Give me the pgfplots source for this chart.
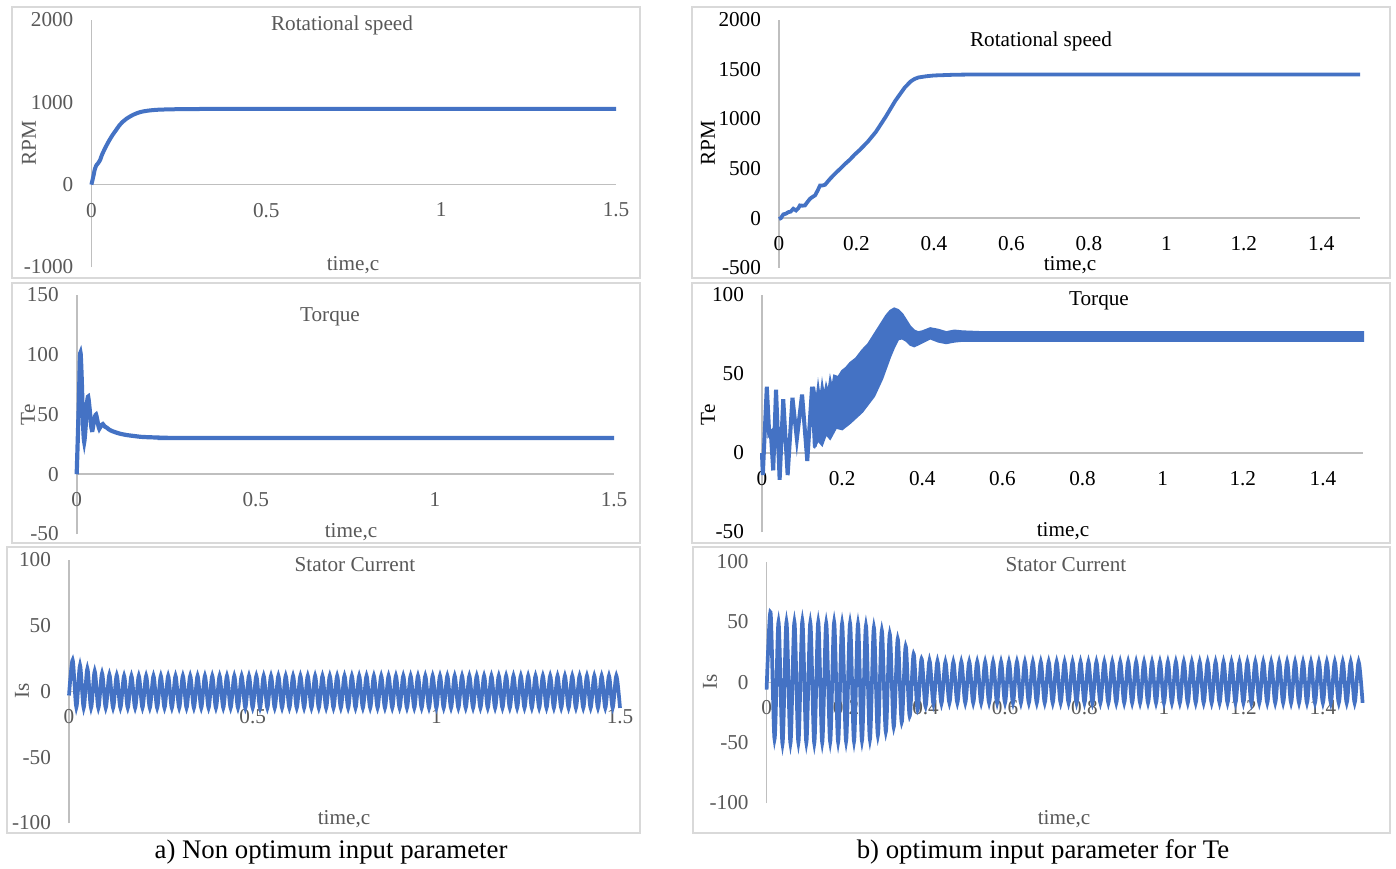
\documentclass[border=0pt]{standalone}
\usepackage{fontspec}
\setmainfont{Liberation Serif}
\usepackage{pgfplots}
\pgfplotsset{compat=1.18}

\definecolor{lineblue}{HTML}{4472C4}
\definecolor{axisgray}{HTML}{BFBFBF}
\definecolor{framegray}{HTML}{D9D9D9}
\definecolor{txtgray}{HTML}{595959}

\pgfplotsset{
  panel/.style={
    scale only axis, anchor=south west, clip=false,
    axis x line=middle, axis y line=left,
    axis line style={draw=axisgray, line width=0.8pt, -},
    major tick length=0pt,
    hide obscured x ticks=false, hide obscured y ticks=false,
    tick label style={font=\fontsize{10.6}{12}\selectfont},
    xticklabel style={yshift=-5.6pt},
    yticklabel style={xshift=-5.5pt},
    /pgf/number format/assume math mode=true,
    /pgf/number format/1000 sep={},
    scaled ticks=false,
    xmin=0, xmax=1.5,
  },
  graytext/.style={tick label style={text=txtgray}},
  blacktext/.style={tick label style={text=black}},
}

\begin{document}
\begin{tikzpicture}
\begin{scope}[x=0.5pt,y=-0.5pt]
  \path[use as bounding box] (0,0) rectangle (1396,868);
  \fill[white] (0,0) rectangle (1396,868);
  \draw[framegray, line width=0.75pt] (12,7) rectangle (640,278);
  \draw[framegray, line width=0.75pt] (692,7) rectangle (1390,278);
  \draw[framegray, line width=0.75pt] (12,283) rectangle (640,543);
  \draw[framegray, line width=0.75pt] (692,283) rectangle (1390,543);
  \draw[framegray, line width=0.75pt] (7,547) rectangle (640,833);
  \draw[framegray, line width=0.75pt] (693,547) rectangle (1390,833);
\end{scope}

% ---------- a) rotational speed
\begin{axis}[panel, graytext, at={(45.7pt,-133.5pt)}, width=262.3pt, height=123.5pt,
  ymin=-1000, ymax=2000, ytick={-1000,0,1000,2000}, xtick={0,0.5,1,1.5}]
\addplot[lineblue, line width=2pt, smooth] coordinates {
  (0,0) (0.005,90) (0.01,190) (0.015,240) (0.02,265) (0.025,300) (0.03,360)
  (0.04,450) (0.05,530) (0.06,600) (0.07,660) (0.08,720) (0.09,765) (0.1,800)
  (0.12,850) (0.14,882) (0.16,898) (0.18,907) (0.2,912) (0.25,917) (0.3,919)
  (0.6,920) (1.5,920)
};
\end{axis}

% ---------- b) rotational speed
\begin{axis}[panel, blacktext, at={(389.5pt,-133.8pt)}, width=290.5pt, height=123.8pt,
  ymin=-500, ymax=2000, ytick={-500,0,500,1000,1500,2000},
  xtick={0,0.2,0.4,0.6,0.8,1,1.2,1.4}]
\addplot[lineblue, line width=1.9pt] coordinates {
  (0,-10) (0.005,0) (0.011,37) (0.018,45) (0.024,60) (0.03,65) (0.037,94)
  (0.044,77) (0.05,100) (0.054,128) (0.06,125) (0.067,128) (0.073,160)
  (0.08,195) (0.087,215) (0.093,229) (0.1,280) (0.106,330) (0.113,330)
  (0.119,337) (0.126,370) (0.132,397) (0.14,430) (0.149,465) (0.16,505)
  (0.17,545) (0.183,590) (0.195,640) (0.209,690) (0.23,775) (0.25,870)
  (0.275,1020) (0.3,1183) (0.325,1320) (0.34,1380) (0.35,1405) (0.36,1420)
  (0.38,1432) (0.4,1440) (0.45,1447) (0.5,1450) (1.5,1450)
};
\end{axis}

% ---------- a) torque
\begin{axis}[panel, graytext, at={(38.35pt,-267pt)}, width=268.65pt, height=119.5pt,
  ymin=-50, ymax=150, ytick={-50,0,50,100,150}, xtick={0,0.5,1,1.5}]
\addplot[lineblue, line width=2.1pt, smooth, tension=0.4] coordinates {
  (0,0) (0.006,60) (0.009,97) (0.011,101) (0.014,80) (0.018,40) (0.021,27)
  (0.025,40) (0.029,60) (0.032,65) (0.036,55) (0.041,39) (0.044,37)
  (0.049,46) (0.054,50) (0.059,43) (0.063,38) (0.068,41) (0.073,42)
  (0.078,40) (0.084,39) (0.09,37.5) (0.1,36) (0.12,34) (0.14,32.8)
  (0.16,32) (0.18,31.3) (0.2,31) (0.25,30.5) (0.3,30.3) (1.5,30.3)
};
\end{axis}

% ---------- b) torque
\begin{axis}[panel, blacktext, at={(381pt,-266pt)}, width=300.5pt, height=118.5pt,
  ymin=-50, ymax=100, ytick={-50,0,50,100},
  xtick={0,0.2,0.4,0.6,0.8,1,1.2,1.4}]
\addplot[lineblue, line width=2pt] coordinates {
  (0,0) (0.002,-14) (0.012,42) (0.018,12) (0.022,13) (0.028,-11) (0.035,40)
  (0.044,-17) (0.053,34) (0.064,-14) (0.076,35) (0.087,9) (0.1,37)
  (0.113,-5) (0.125,42) (0.132,4)
};
\addplot[draw=lineblue, fill=lineblue, line width=1pt] coordinates {
  (0.13,42) (0.135,32) (0.14,43) (0.145,34) (0.15,44) (0.155,36) (0.16,43)
  (0.165,38) (0.17,47) (0.175,41) (0.18,49) (0.19,48) (0.2,52) (0.21,54)
  (0.22,57) (0.235,60) (0.25,65) (0.265,69) (0.28,75) (0.3,83) (0.31,87)
  (0.32,90) (0.33,91.5) (0.34,90.5) (0.35,88) (0.36,84) (0.37,80)
  (0.38,77.5) (0.39,76.5) (0.4,77) (0.42,79) (0.44,78) (0.46,76.5)
  (0.48,77.5) (0.5,77) (0.55,76.5) (1.5,76.5)
  (1.5,71) (0.55,71) (0.5,71) (0.48,70.5) (0.46,69.5) (0.44,70.5)
  (0.42,72.5) (0.4,70) (0.38,67.5) (0.37,68.5) (0.36,71) (0.35,72.5)
  (0.34,72) (0.33,67) (0.32,61) (0.31,54) (0.3,47) (0.28,36) (0.25,26)
  (0.22,19) (0.2,15) (0.185,16) (0.17,9) (0.16,12) (0.15,5) (0.14,8)
  (0.13,3)
};
\end{axis}

% ---------- a) stator current
\begin{axis}[panel, graytext, at={(34.5pt,-411.5pt)}, width=275.5pt, height=131.5pt,
  ymin=-100, ymax=100, ytick={-100,-50,0,50,100}, xtick={0,0.5,1,1.5}]
\addplot[lineblue, line width=1.85pt, smooth] coordinates {
  (0,-3)
  (0.01,24) (0.02,-12) (0.03,20) (0.04,-12.5) (0.05,17.5) (0.06,-12.5)
  (0.07,15.5) (0.08,-12.5) (0.09,14) (0.10,-12.5)
  (0.11,13) (0.12,-12.5) (0.13,12.5) (0.14,-12.5) (0.15,12) (0.16,-12.5)
  (0.17,12) (0.18,-12.5) (0.19,12) (0.20,-12.5)
  (0.21,12) (0.22,-12.5) (0.23,12) (0.24,-12.5) (0.25,12) (0.26,-12.5) (0.27,12) (0.28,-12.5) (0.29,12) (0.30,-12.5)
  (0.31,12) (0.32,-12.5) (0.33,12) (0.34,-12.5) (0.35,12) (0.36,-12.5) (0.37,12) (0.38,-12.5) (0.39,12) (0.40,-12.5)
  (0.41,12) (0.42,-12.5) (0.43,12) (0.44,-12.5) (0.45,12) (0.46,-12.5) (0.47,12) (0.48,-12.5) (0.49,12) (0.50,-12.5)
  (0.51,12) (0.52,-12.5) (0.53,12) (0.54,-12.5) (0.55,12) (0.56,-12.5) (0.57,12) (0.58,-12.5) (0.59,12) (0.60,-12.5)
  (0.61,12) (0.62,-12.5) (0.63,12) (0.64,-12.5) (0.65,12) (0.66,-12.5) (0.67,12) (0.68,-12.5) (0.69,12) (0.70,-12.5)
  (0.71,12) (0.72,-12.5) (0.73,12) (0.74,-12.5) (0.75,12) (0.76,-12.5) (0.77,12) (0.78,-12.5) (0.79,12) (0.80,-12.5)
  (0.81,12) (0.82,-12.5) (0.83,12) (0.84,-12.5) (0.85,12) (0.86,-12.5) (0.87,12) (0.88,-12.5) (0.89,12) (0.90,-12.5)
  (0.91,12) (0.92,-12.5) (0.93,12) (0.94,-12.5) (0.95,12) (0.96,-12.5) (0.97,12) (0.98,-12.5) (0.99,12) (1.00,-12.5)
  (1.01,12) (1.02,-12.5) (1.03,12) (1.04,-12.5) (1.05,12) (1.06,-12.5) (1.07,12) (1.08,-12.5) (1.09,12) (1.10,-12.5)
  (1.11,12) (1.12,-12.5) (1.13,12) (1.14,-12.5) (1.15,12) (1.16,-12.5) (1.17,12) (1.18,-12.5) (1.19,12) (1.20,-12.5)
  (1.21,12) (1.22,-12.5) (1.23,12) (1.24,-12.5) (1.25,12) (1.26,-12.5) (1.27,12) (1.28,-12.5) (1.29,12) (1.30,-12.5)
  (1.31,12) (1.32,-12.5) (1.33,12) (1.34,-12.5) (1.35,12) (1.36,-12.5) (1.37,12) (1.38,-12.5) (1.39,12) (1.40,-12.5)
  (1.41,12) (1.42,-12.5) (1.43,12) (1.44,-12.5) (1.45,12) (1.46,-12.5) (1.47,12) (1.48,-12.5) (1.49,12) (1.50,-12.5)
};
\end{axis}

% ---------- b) stator current
\begin{axis}[panel, graytext, at={(383.3pt,-401.5pt)}, width=298pt, height=120.65pt,
  ymin=-100, ymax=100, ytick={-100,-50,0,50,100},
  xtick={0,0.2,0.4,0.6,0.8,1,1.2,1.4}]
\addplot[lineblue, line width=1.85pt, smooth] coordinates {
  (0,-6)
  (0.01,58) (0.02,-47) (0.03,50) (0.04,-51) (0.05,50) (0.06,-50.5) (0.07,50) (0.08,-50) (0.09,51) (0.10,-50)
  (0.11,49.5) (0.12,-50.5) (0.13,50) (0.14,-50) (0.15,49) (0.16,-49.5) (0.17,50) (0.18,-49.5) (0.19,49) (0.20,-49)
  (0.21,49) (0.22,-49) (0.23,48.5) (0.24,-48.5) (0.25,47) (0.26,-47.5) (0.27,45.5) (0.28,-44) (0.29,43) (0.30,-41)
  (0.31,40) (0.32,-37) (0.33,36) (0.34,-33) (0.35,30) (0.36,-28) (0.37,23.5) (0.38,-23) (0.39,19.5) (0.40,-20)
  (0.41,18) (0.42,-18) (0.43,17.5) (0.44,-17.5) (0.45,17) (0.46,-17) (0.47,17) (0.48,-17) (0.49,17) (0.50,-17)
  (0.51,17) (0.52,-17) (0.53,17) (0.54,-17) (0.55,17) (0.56,-17) (0.57,17) (0.58,-17) (0.59,17) (0.60,-17)
  (0.61,17) (0.62,-17) (0.63,17) (0.64,-17) (0.65,17) (0.66,-17) (0.67,17) (0.68,-17) (0.69,17) (0.70,-17)
  (0.71,17) (0.72,-17) (0.73,17) (0.74,-17) (0.75,17) (0.76,-17) (0.77,17) (0.78,-17) (0.79,17) (0.80,-17)
  (0.81,17) (0.82,-17) (0.83,17) (0.84,-17) (0.85,17) (0.86,-17) (0.87,17) (0.88,-17) (0.89,17) (0.90,-17)
  (0.91,17) (0.92,-17) (0.93,17) (0.94,-17) (0.95,17) (0.96,-17) (0.97,17) (0.98,-17) (0.99,17) (1.00,-17)
  (1.01,17) (1.02,-17) (1.03,17) (1.04,-17) (1.05,17) (1.06,-17) (1.07,17) (1.08,-17) (1.09,17) (1.10,-17)
  (1.11,17) (1.12,-17) (1.13,17) (1.14,-17) (1.15,17) (1.16,-17) (1.17,17) (1.18,-17) (1.19,17) (1.20,-17)
  (1.21,17) (1.22,-17) (1.23,17) (1.24,-17) (1.25,17) (1.26,-17) (1.27,17) (1.28,-17) (1.29,17) (1.30,-17)
  (1.31,17) (1.32,-17) (1.33,17) (1.34,-17) (1.35,17) (1.36,-17) (1.37,17) (1.38,-17) (1.39,17) (1.40,-17)
  (1.41,17) (1.42,-17) (1.43,17) (1.44,-17) (1.45,17) (1.46,-17) (1.47,17) (1.48,-17) (1.49,17) (1.50,-17)
};
\end{axis}

% ---------- titles, axis names, captions
\begin{scope}[x=0.5pt,y=-0.5pt, every node/.style={inner sep=0pt, font=\fontsize{10.6}{12}\selectfont}]
  \node[txtgray] at (342,25) {Rotational speed};
  \node[txtgray, rotate=90] at (29,143) {RPM};
  \node[txtgray] at (353,265) {time,c};

  \node at (1041,41) {Rotational speed};
  \node[rotate=90] at (708,143) {RPM};
  \node at (1070,265) {time,c};

  \node[txtgray] at (330,317) {Torque};
  \node[txtgray, rotate=90] at (28,415) {Te};
  \node[txtgray] at (351,532) {time,c};

  \node at (1099,301) {Torque};
  \node[rotate=90] at (708,415) {Te};
  \node at (1063,531) {time,c};

  \node[txtgray] at (355,565) {Stator Current};
  \node[txtgray, rotate=90] at (22,691) {Is};
  \node[txtgray] at (344,819) {time,c};

  \node[txtgray] at (1066,565) {Stator Current};
  \node[txtgray, rotate=90] at (710,682) {Is};
  \node[txtgray] at (1064,819) {time,c};

  \node[font=\fontsize{13.4}{15}\selectfont] at (331,852) {a) Non optimum input parameter};
  \node[font=\fontsize{13.4}{15}\selectfont] at (1043,852) {b) optimum input parameter for Te};
\end{scope}
\end{tikzpicture}
\end{document}
